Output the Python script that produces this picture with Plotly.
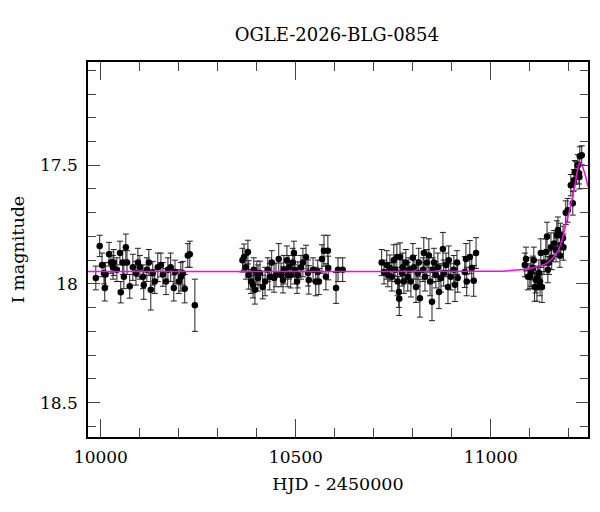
import plotly.graph_objects as go

# OGLE photometry, I band (HJD - 2450000, mag, error)
hjd = [
    9987, 9997, 10003, 10008, 10010, 10012, 10021, 10026, 10031, 10033, 10041, 10049, 10051,
    10056, 10059, 10064, 10067, 10074, 10082, 10090, 10095, 10100, 10108, 10110, 10118, 10123,
    10128, 10133, 10138, 10146, 10154, 10159, 10167, 10172, 10179, 10187, 10190, 10200, 10205,
    10210, 10215, 10223, 10228, 10241,
    10363, 10367, 10377, 10372, 10379, 10385, 10390, 10392, 10395, 10400, 10403, 10408, 10415,
    10421, 10428, 10433, 10438, 10444, 10449, 10456, 10462, 10467, 10469, 10477, 10479, 10482,
    10487, 10492, 10495, 10497, 10503, 10505, 10513, 10518, 10526, 10531, 10533, 10544, 10551,
    10556, 10559, 10567, 10572, 10577, 10582, 10583, 10603, 10608, 10620,
    10720, 10726, 10733, 10736, 10741, 10746, 10751, 10754, 10759, 10761, 10764, 10765, 10767,
    10772, 10774, 10777, 10782, 10787, 10790, 10795, 10800, 10803, 10808, 10813, 10815, 10818,
    10826, 10828, 10831, 10836, 10841, 10844, 10849, 10851, 10854, 10859, 10864, 10867, 10872,
    10877, 10879, 10885, 10890, 10892, 10897, 10905, 10908, 10913, 10915, 10933, 10936, 10938,
    10946, 10951, 10956, 10962,
    11087, 11090, 11095, 11100, 11103, 11108, 11110, 11112, 11115, 11118, 11120, 11123, 11126,
    11128, 11131, 11136, 11141, 11144, 11146, 11149, 11154, 11156, 11162, 11167, 11169, 11172,
    11177, 11178, 11179, 11185, 11186, 11192, 11197, 11205, 11210, 11213, 11215, 11218, 11223,
    11226, 11227, 11228, 11233,
]
imag = [
    17.975, 17.84, 17.92, 17.955, 18.017, 17.96, 17.875, 17.91, 17.93, 17.91, 17.94, 17.87, 18.035,
    17.91, 17.97, 17.845, 17.91, 18.01, 17.93, 17.955, 17.91, 17.93, 17.97, 18.005, 17.94, 17.91,
    18.025, 17.955, 17.99, 17.93, 17.92, 17.96, 17.99, 17.94, 17.93, 18.017, 17.95, 17.99, 17.97,
    17.955, 18.02, 17.88, 17.875, 18.09,
    17.90, 17.887, 17.866, 17.93, 17.962, 17.99, 18.004, 17.94, 18.025, 17.954, 17.975, 17.954, 18.013,
    17.99, 17.94, 17.97, 17.91, 17.975, 17.962, 17.895, 17.962, 17.983, 17.94, 17.90, 17.962, 17.93,
    17.962, 17.91, 17.87, 17.94, 17.99, 17.962, 17.93, 17.91, 17.887, 17.954, 17.983, 17.94, 17.99,
    17.95, 17.99, 17.895, 17.86, 17.97, 17.86, 17.933, 18.017, 17.94, 17.94,
    17.91, 17.95, 17.92, 17.962, 17.933, 17.97, 17.90, 17.94, 17.887, 17.99, 18.034, 18.063, 17.887,
    17.954, 17.93, 17.99, 17.91, 17.97, 17.94, 17.99, 17.89, 17.93, 18.013, 17.954, 17.91, 18.06,
    17.94, 17.87, 17.97, 17.91, 17.88, 17.99, 18.075, 17.94, 17.91, 17.962, 17.93, 18.034, 17.975,
    17.853, 17.954, 17.92, 18.013, 17.90, 17.97, 17.94, 18.004, 17.91, 17.975, 17.95, 17.895, 17.99,
    17.887, 17.933, 17.987, 17.87,
    17.92, 17.895, 17.97, 17.97, 17.95, 17.933, 17.90, 18.013, 17.983, 18.013, 17.975, 17.954, 17.99,
    17.87, 18.013, 17.91, 17.866, 17.80, 17.94, 17.91, 17.845, 17.89, 17.83, 17.857, 17.794, 17.773,
    17.88, 17.794, 17.836, 17.807, 17.845, 17.70, 17.69, 17.584, 17.66, 17.563, 17.53, 17.53, 17.50,
    17.534, 17.55, 17.462, 17.458,
]
ierr = [
    0.05, 0.045, 0.05, 0.045, 0.055, 0.05, 0.05, 0.045, 0.05, 0.055, 0.05, 0.05, 0.045,
    0.05, 0.05, 0.055, 0.05, 0.05, 0.055, 0.05, 0.06, 0.05, 0.05, 0.06, 0.05, 0.055,
    0.085, 0.05, 0.05, 0.06, 0.05, 0.05, 0.055, 0.05, 0.06, 0.055, 0.05, 0.05, 0.06,
    0.05, 0.06, 0.05, 0.055, 0.11,
    0.05, 0.055, 0.05, 0.05, 0.06, 0.05, 0.055, 0.05, 0.06, 0.05, 0.055, 0.05, 0.05,
    0.06, 0.05, 0.055, 0.05, 0.06, 0.05, 0.065, 0.05, 0.055, 0.06, 0.06, 0.05, 0.05,
    0.055, 0.06, 0.05, 0.06, 0.05, 0.055, 0.05, 0.06, 0.05, 0.055, 0.06, 0.05, 0.06,
    0.05, 0.055, 0.06, 0.065, 0.055, 0.065, 0.05, 0.065, 0.05, 0.05,
    0.055, 0.05, 0.06, 0.05, 0.055, 0.06, 0.065, 0.05, 0.055, 0.06, 0.065, 0.07, 0.06,
    0.055, 0.06, 0.05, 0.055, 0.06, 0.05, 0.065, 0.06, 0.05, 0.065, 0.055, 0.06, 0.08,
    0.05, 0.065, 0.06, 0.055, 0.07, 0.06, 0.08, 0.05, 0.06, 0.055, 0.06, 0.07, 0.06,
    0.07, 0.055, 0.05, 0.07, 0.06, 0.055, 0.06, 0.07, 0.05, 0.06, 0.065, 0.065, 0.06,
    0.07, 0.055, 0.065, 0.065,
    0.05, 0.05, 0.055, 0.05, 0.06, 0.05, 0.055, 0.06, 0.055, 0.06, 0.05, 0.055, 0.06,
    0.06, 0.065, 0.05, 0.055, 0.06, 0.055, 0.05, 0.06, 0.05, 0.055, 0.05, 0.06, 0.055,
    0.05, 0.05, 0.055, 0.05, 0.055, 0.05, 0.05, 0.045, 0.05, 0.045, 0.05, 0.045, 0.045,
    0.045, 0.05, 0.04, 0.04,
]

# microlensing model
model_hjd = [9967, 10500, 11000, 11050, 11100, 11146, 11172, 11184, 11192, 11200, 11207,
             11215, 11221, 11225, 11228, 11232, 11238, 11244, 11249]
model_mag = [17.948, 17.948, 17.947, 17.944, 17.935, 17.91, 17.86, 17.805, 17.75, 17.70, 17.65,
             17.59, 17.53, 17.50, 17.49, 17.495, 17.52, 17.555, 17.59]

font = "DejaVu Serif"

fig = go.Figure()
fig.add_trace(go.Scatter(
    x=hjd, y=imag, mode='markers',
    marker=dict(size=6.5, color='black'),
    error_y=dict(type='data', array=ierr, color='#222222', thickness=1, width=3),
    showlegend=False
))
fig.add_trace(go.Scatter(
    x=model_hjd, y=model_mag, mode='lines',
    line=dict(color='#ff00ff', width=1.5, shape='spline', smoothing=0.8),
    showlegend=False
))

axis_common = dict(
    showline=True, linecolor='black', linewidth=1.5, mirror='ticks',
    ticks='inside', tickcolor='#444444', tickwidth=1,
    showgrid=False, zeroline=False, automargin=False,
    tickfont=dict(family=font, size=17, color='black'),
)

fig.update_xaxes(
    range=[9967, 11249], tick0=10000, dtick=500, ticklen=18, tickformat='d',
    minor=dict(dtick=100, ticklen=9, ticks='inside', tickcolor='#444444', showgrid=False),
    ticklabelstandoff=4,
    title=dict(text='HJD - 2450000', font=dict(family=font, size=17.5, color='black'), standoff=12),
    **axis_common
)
fig.update_yaxes(
    range=[18.645, 17.065], tick0=17.5, dtick=0.5, ticklen=12,
    minor=dict(dtick=0.1, ticklen=8, ticks='inside', tickcolor='#444444', showgrid=False),
    ticklabelstandoff=5,
    title=dict(text='I magnitude', font=dict(family=font, size=17.5, color='black'), standoff=14),
    **axis_common
)

# the page adds an 8 px body margin, so margins are shifted to compensate
fig.update_layout(
    width=600, height=512,
    template='plotly_white',
    plot_bgcolor='white', paper_bgcolor='white',
    title=dict(text='OGLE-2026-BLG-0854', x=0.548, xanchor='center', y=0.947, yanchor='middle',
               font=dict(family=font, size=18, color='black')),
    margin=dict(l=80, r=20, t=54, b=83),
)

fig.write_html("out.html")
